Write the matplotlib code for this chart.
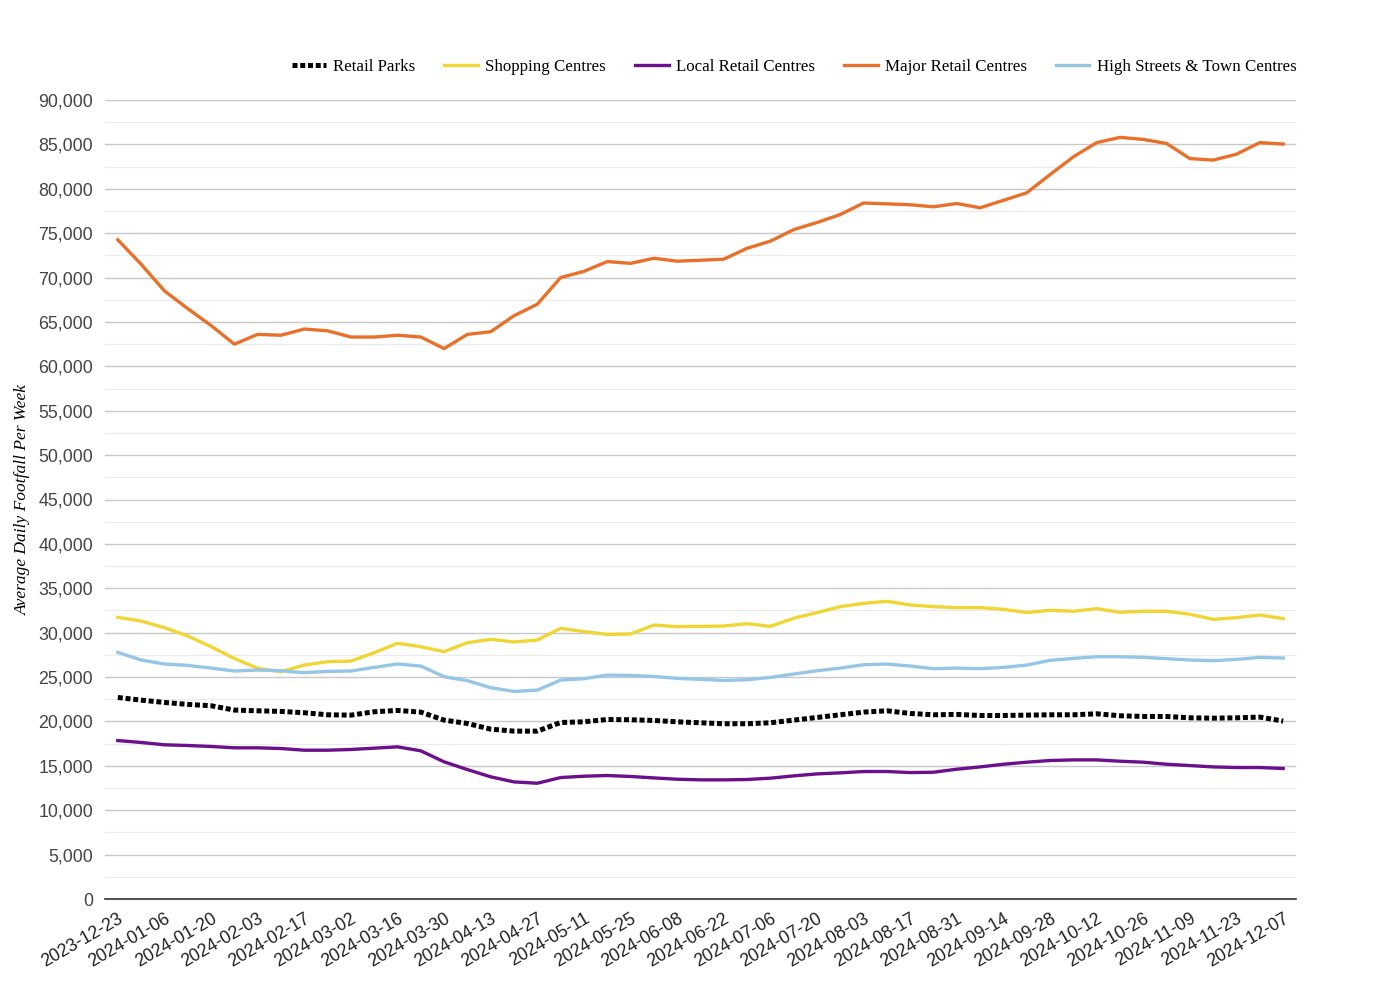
import numpy as np
import pandas as pd
import matplotlib
matplotlib.use("Agg")
import matplotlib.pyplot as plt
from matplotlib.ticker import MultipleLocator, FuncFormatter

# weekly dates
weeks = pd.date_range("2023-12-23", "2024-12-07", freq="7D").strftime("%Y-%m-%d").tolist()

retail_parks = [22700, 22400, 22140, 21920, 21770, 21280, 21200, 21130, 20980, 20750,
                20710, 21090, 21240, 21050, 20150, 19770, 19130, 18910, 18910, 19880,
                19960, 20220, 20190, 20110, 19960, 19850, 19740, 19740, 19850, 20150,
                20450, 20750, 21050, 21200, 20900, 20750, 20790, 20670, 20670, 20710,
                20750, 20750, 20860, 20640, 20560, 20560, 20410, 20370, 20410, 20490,
                20040]

shopping_centres = [31730, 31310, 30560, 29620, 28420, 27100, 25980, 25600, 26350, 26730,
                    26800, 27740, 28800, 28420, 27860, 28870, 29250, 28950, 29170, 30490,
                    30110, 29810, 29850, 30860, 30680, 30710, 30750, 31010, 30710, 31620,
                    32260, 32930, 33310, 33530, 33120, 32930, 32820, 32820, 32630, 32260,
                    32520, 32410, 32710, 32290, 32410, 32410, 32070, 31500, 31690, 31990,
                    31580]

local_retail = [17850, 17630, 17370, 17290, 17180, 17030, 17030, 16950, 16760, 16760,
                16840, 16990, 17140, 16690, 15450, 14580, 13760, 13190, 13040, 13680,
                13830, 13910, 13800, 13640, 13490, 13420, 13420, 13460, 13610, 13870,
                14090, 14210, 14360, 14360, 14240, 14280, 14620, 14880, 15180, 15410,
                15600, 15670, 15670, 15520, 15410, 15180, 15030, 14880, 14810, 14810,
                14700]

major_retail = [74250, 71500, 68500, 66500, 64600, 62500, 63600, 63500, 64200, 64000,
                63300, 63300, 63500, 63300, 62000, 63600, 63900, 65700, 67000, 70000,
                70700, 71800, 71600, 72170, 71840, 71950, 72070, 73300, 74100, 75400,
                76200, 77100, 78400, 78300, 78200, 77970, 78340, 77860, 78700, 79550,
                81600, 83600, 85200, 85790, 85560, 85100, 83400, 83230, 83900, 85200,
                85040]

high_streets = [27780, 26920, 26470, 26310, 26010, 25680, 25790, 25710, 25490, 25640,
                25680, 26090, 26470, 26240, 25040, 24590, 23800, 23380, 23530, 24660,
                24810, 25220, 25190, 25070, 24850, 24740, 24620, 24700, 24960, 25340,
                25710, 26010, 26390, 26460, 26240, 25940, 26010, 25940, 26090, 26350,
                26880, 27100, 27290, 27290, 27220, 27070, 26920, 26840, 26990, 27220,
                27140]

x = np.arange(len(weeks))

fig = plt.figure(figsize=(14, 10), dpi=100)
ax = fig.add_axes([0.075, 0.101, 0.8507, 0.799])

lw = 2.4
ax.plot(x, retail_parks, color="black", lw=3.6, linestyle=(0, (1, 0.55)),
        dash_capstyle="butt", label="Retail Parks", zorder=3)
ax.plot(x, shopping_centres, color="#f0d635", lw=lw, label="Shopping Centres",
        solid_joinstyle="round", zorder=3)
ax.plot(x, local_retail, color="#6b0f8c", lw=lw, label="Local Retail Centres",
        solid_joinstyle="round", zorder=3)
ax.plot(x, major_retail, color="#e8702a", lw=lw, label="Major Retail Centres",
        solid_joinstyle="round", zorder=3)
ax.plot(x, high_streets, color="#96c6e6", lw=lw, label="High Streets & Town Centres",
        solid_joinstyle="round", zorder=3)

ax.set_xlim(-0.55, len(weeks) - 0.45)
ax.set_ylim(0, 90000)
ax.yaxis.set_major_locator(MultipleLocator(5000))
ax.yaxis.set_minor_locator(MultipleLocator(2500))
ax.yaxis.set_major_formatter(FuncFormatter(lambda v, p: f"{int(v):,}"))
ax.grid(axis="y", which="major", color="#c8c8c8", lw=1.0, zorder=0)
ax.grid(axis="y", which="minor", color="#ebebeb", lw=1.0, zorder=0)
ax.set_axisbelow(True)

for s in ["top", "right", "left"]:
    ax.spines[s].set_visible(False)
ax.spines["bottom"].set_color("#333333")
ax.spines["bottom"].set_linewidth(1.2)

ax.set_xticks(x[::2])
ax.set_xticklabels(weeks[::2], rotation=30, ha="right", rotation_mode="anchor",
                   fontsize=12.8, family="Liberation Sans", color="#222222")
ax.tick_params(axis="x", length=0, pad=8)
ax.tick_params(axis="y", which="both", length=0, pad=8.5, labelsize=12.8,
               labelcolor="#444444")
for t in ax.get_yticklabels():
    t.set_family("Liberation Sans")

ax.set_ylabel("Average Daily Footfall Per Week", family="Liberation Serif",
              style="italic", fontsize=12.5)
ax.yaxis.set_label_coords(-0.062, 0.5)

leg = ax.legend(loc="lower right", bbox_to_anchor=(1.006, 1.023), ncol=5, frameon=False,
                prop={"family": "Liberation Serif", "size": 12.2},
                handlelength=2.0, columnspacing=1.7, handletextpad=0.42,
                borderaxespad=0)

fig.savefig("out.png", dpi=100, facecolor="white")
